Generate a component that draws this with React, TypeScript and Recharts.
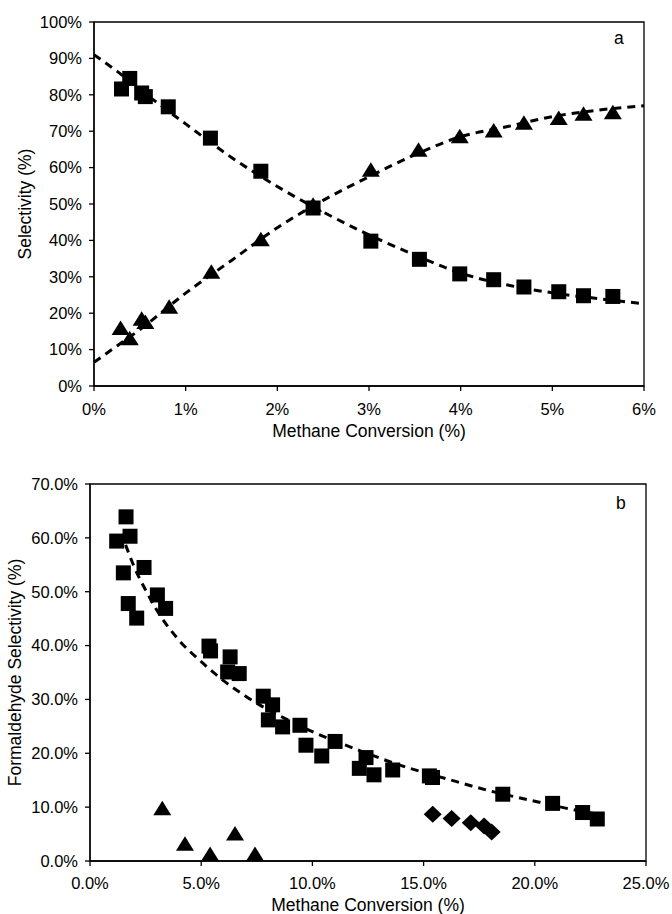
import { ComposedChart, Line, Scatter, XAxis, YAxis, ReferenceArea } from "recharts"

// panel a: selectivity vs methane conversion (0-6%)
const aXTicks = [0, 1, 2, 3, 4, 5, 6]
const aYTicks = [0, 10, 20, 30, 40, 50, 60, 70, 80, 90, 100]

const aSquares = [
  { x: 0.3, y: 81.6 },
  { x: 0.39, y: 84.5 },
  { x: 0.52, y: 80.5 },
  { x: 0.56, y: 79.5 },
  { x: 0.81, y: 76.7 },
  { x: 1.27, y: 68.1 },
  { x: 1.82, y: 59.0 },
  { x: 2.39, y: 48.9 },
  { x: 3.02, y: 39.8 },
  { x: 3.55, y: 34.8 },
  { x: 3.99, y: 30.8 },
  { x: 4.36, y: 29.2 },
  { x: 4.69, y: 27.2 },
  { x: 5.07, y: 25.9 },
  { x: 5.34, y: 24.8 },
  { x: 5.66, y: 24.6 },
]

const aTriangles = [
  { x: 0.29, y: 15.9 },
  { x: 0.39, y: 13.1 },
  { x: 0.52, y: 18.5 },
  { x: 0.56, y: 17.6 },
  { x: 0.82, y: 21.8 },
  { x: 1.28, y: 31.4 },
  { x: 1.82, y: 40.3 },
  { x: 2.39, y: 49.8 },
  { x: 3.02, y: 59.4 },
  { x: 3.54, y: 64.9 },
  { x: 3.99, y: 68.6 },
  { x: 4.36, y: 70.2 },
  { x: 4.69, y: 72.3 },
  { x: 5.07, y: 73.6 },
  { x: 5.34, y: 74.8 },
  { x: 5.66, y: 75.2 },
]

const aSquareFit = [
  { x: 0, y: 91 },
  { x: 0.25, y: 86.5 },
  { x: 0.5, y: 81.5 },
  { x: 1, y: 72 },
  { x: 1.5, y: 62.8 },
  { x: 2, y: 54.8 },
  { x: 2.5, y: 47.8 },
  { x: 3, y: 41.5 },
  { x: 3.5, y: 36 },
  { x: 4, y: 31 },
  { x: 4.5, y: 27.8 },
  { x: 5, y: 25.6 },
  { x: 5.5, y: 24 },
  { x: 6, y: 22.6 },
]

const aTriangleFit = [
  { x: 0, y: 6.5 },
  { x: 0.25, y: 11 },
  { x: 0.5, y: 15.5 },
  { x: 1, y: 25.5 },
  { x: 1.5, y: 34.5 },
  { x: 2, y: 43.5 },
  { x: 2.5, y: 51 },
  { x: 3, y: 57.5 },
  { x: 3.5, y: 63.5 },
  { x: 4, y: 68.5 },
  { x: 4.5, y: 71.2 },
  { x: 5, y: 74 },
  { x: 5.5, y: 75.8 },
  { x: 6, y: 77 },
]

// panel b: formaldehyde selectivity vs methane conversion (0-25%)
const bXTicks = [0, 5, 10, 15, 20, 25]
const bYTicks = [0, 10, 20, 30, 40, 50, 60, 70]

const bSquares = [
  { x: 1.2, y: 59.4 },
  { x: 1.62, y: 63.9 },
  { x: 1.8, y: 60.3 },
  { x: 1.5, y: 53.5 },
  { x: 2.43, y: 54.5 },
  { x: 1.72, y: 47.8 },
  { x: 2.1, y: 45.1 },
  { x: 3.03, y: 49.4 },
  { x: 3.4, y: 46.9 },
  { x: 5.35, y: 39.9 },
  { x: 5.42, y: 39.0 },
  { x: 6.3, y: 37.9 },
  { x: 6.19, y: 35.1 },
  { x: 6.71, y: 34.8 },
  { x: 7.79, y: 30.6 },
  { x: 8.21, y: 29.0 },
  { x: 8.02, y: 26.2 },
  { x: 8.66, y: 24.9 },
  { x: 9.44, y: 25.2 },
  { x: 9.71, y: 21.5 },
  { x: 10.42, y: 19.5 },
  { x: 11.02, y: 22.2 },
  { x: 12.41, y: 19.2 },
  { x: 12.11, y: 17.2 },
  { x: 12.77, y: 16.0 },
  { x: 13.61, y: 16.9 },
  { x: 15.26, y: 15.8 },
  { x: 15.4, y: 15.5 },
  { x: 18.56, y: 12.4 },
  { x: 20.8, y: 10.7 },
  { x: 22.15, y: 9.0 },
  { x: 22.81, y: 7.8 },
]

const bTriangles = [
  { x: 3.25, y: 9.8 },
  { x: 4.27, y: 3.2 },
  { x: 5.4, y: 1.3 },
  { x: 6.52, y: 5.1 },
  { x: 7.42, y: 1.3 },
]

const bDiamonds = [
  { x: 15.41, y: 8.7 },
  { x: 16.26, y: 7.9 },
  { x: 17.12, y: 7.1 },
  { x: 17.72, y: 6.5 },
  { x: 18.06, y: 5.4 },
]

const bFit = [
  { x: 1.6, y: 58.7 },
  { x: 2, y: 54.5 },
  { x: 2.5, y: 50.3 },
  { x: 3, y: 46.6 },
  { x: 4, y: 41 },
  { x: 5, y: 37 },
  { x: 6, y: 33.5 },
  { x: 7, y: 30.6 },
  { x: 8, y: 28.1 },
  { x: 9, y: 26 },
  { x: 10, y: 24 },
  { x: 11, y: 22.3 },
  { x: 12, y: 20.7 },
  { x: 14, y: 17.7 },
  { x: 16, y: 15.3 },
  { x: 18, y: 13 },
  { x: 20, y: 11.1 },
  { x: 22, y: 9.3 },
  { x: 22.8, y: 8.7 },
]

const Square = (props: any) => {
  const { cx, cy } = props
  return <rect x={cx - 7.5} y={cy - 7.5} width={15} height={15} fill="#000" />
}

const Triangle = (props: any) => {
  const { cx, cy } = props
  return <polygon points={`${cx},${cy - 7.5} ${cx + 9},${cy + 7} ${cx - 9},${cy + 7}`} fill="#000" />
}

const Diamond = (props: any) => {
  const { cx, cy } = props
  return <polygon points={`${cx},${cy - 8.5} ${cx + 9},${cy} ${cx},${cy + 8.5} ${cx - 9},${cy}`} fill="#000" />
}

const tickStyle = { fill: "#000", fontSize: 16.5 }
const titleStyle = { fill: "#000", fontSize: 17.5 }
const axisLine = { stroke: "#000", strokeWidth: 1.3 }
const fitLine = { stroke: "#000", strokeWidth: 3, strokeDasharray: "8 6" }

export default function App() {
  return (
    <div
      style={{
        position: "absolute",
        left: 0,
        top: 0,
        width: 672,
        height: 914,
        background: "#fff",
        fontFamily: "'Liberation Sans', Arial, sans-serif",
      }}
    >
      <ComposedChart width={672} height={460} margin={{ top: 22, right: 28, bottom: 0, left: 0 }}>
        <XAxis
          type="number"
          dataKey="x"
          domain={[0, 6]}
          ticks={aXTicks}
          tickFormatter={(v) => `${v}%`}
          height={74}
          tick={tickStyle}
          tickSize={5}
          tickMargin={12}
          axisLine={axisLine}
          tickLine={axisLine}
          label={{ value: "Methane Conversion (%)", position: "insideBottom", offset: 23, style: titleStyle }}
        />
        <YAxis
          type="number"
          dataKey="y"
          domain={[0, 100]}
          ticks={aYTicks}
          tickFormatter={(v) => `${v}%`}
          width={94}
          tick={tickStyle}
          tickSize={5}
          tickMargin={7}
          axisLine={axisLine}
          tickLine={axisLine}
          label={{
            value: "Selectivity (%)",
            angle: -90,
            position: "insideLeft",
            offset: 25,
            style: { ...titleStyle, textAnchor: "middle" },
          }}
        />
        <ReferenceArea x1={0} x2={6} y1={0} y2={100} fill="none" stroke="#000" strokeWidth={1.3} />
        <Line data={aSquareFit} dataKey="y" type="monotone" dot={false} {...fitLine} isAnimationActive={false} />
        <Line data={aTriangleFit} dataKey="y" type="monotone" dot={false} {...fitLine} isAnimationActive={false} />
        <Scatter data={aSquares} shape={Square} isAnimationActive={false} />
        <Scatter data={aTriangles} shape={Triangle} isAnimationActive={false} />
      </ComposedChart>

      <ComposedChart width={672} height={454} margin={{ top: 24, right: 26, bottom: 0, left: 0 }}>
        <XAxis
          type="number"
          dataKey="x"
          domain={[0, 25]}
          ticks={bXTicks}
          tickFormatter={(v) => `${v.toFixed(1)}%`}
          height={53}
          tick={tickStyle}
          tickSize={5}
          tickMargin={11}
          axisLine={axisLine}
          tickLine={axisLine}
          label={{ value: "Methane Conversion (%)", position: "insideBottom", offset: 3, style: titleStyle }}
        />
        <YAxis
          type="number"
          dataKey="y"
          domain={[0, 70]}
          ticks={bYTicks}
          tickFormatter={(v) => `${v.toFixed(1)}%`}
          width={90}
          tick={tickStyle}
          tickSize={5}
          tickMargin={7}
          axisLine={axisLine}
          tickLine={axisLine}
          label={{
            value: "Formaldehyde Selectivity (%)",
            angle: -90,
            position: "insideLeft",
            offset: 15,
            style: { ...titleStyle, textAnchor: "middle" },
          }}
        />
        <ReferenceArea x1={0} x2={25} y1={0} y2={70} fill="none" stroke="#000" strokeWidth={1.3} />
        <Line data={bFit} dataKey="y" type="monotone" dot={false} {...fitLine} isAnimationActive={false} />
        <Scatter data={bSquares} shape={Square} isAnimationActive={false} />
        <Scatter data={bTriangles} shape={Triangle} isAnimationActive={false} />
        <Scatter data={bDiamonds} shape={Diamond} isAnimationActive={false} />
      </ComposedChart>

      <div style={{ position: "absolute", left: 614, top: 28, fontSize: 17.5, lineHeight: "20px", color: "#000" }}>a</div>
      <div style={{ position: "absolute", left: 616, top: 493, fontSize: 17.5, lineHeight: "20px", color: "#000" }}>b</div>
    </div>
  )
}
